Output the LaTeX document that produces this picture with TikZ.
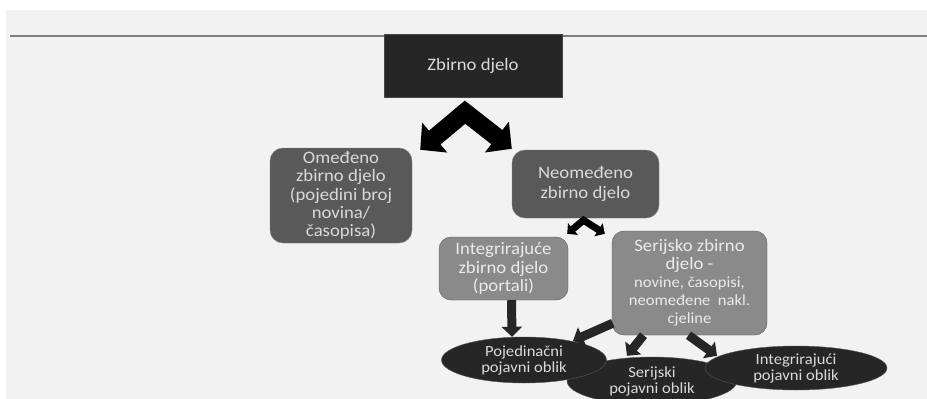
\documentclass[tikz,border=0pt]{standalone}
\usepackage{xcolor}
\usepackage{tikz}
\usepackage{fontspec}
\setmainfont[FakeStretch=1.07]{Carlito}
\usetikzlibrary{shapes.geometric, arrows.meta, calc}
\definecolor{pagegray}{HTML}{F2F2F2}
\definecolor{rulegray}{HTML}{7F7F7F}
\definecolor{boxblack}{HTML}{262626}
\definecolor{boxdark}{HTML}{595959}
\definecolor{boxmid}{HTML}{8A8A8A}
\definecolor{textlight}{HTML}{DADADA}

\begin{document}
\begin{tikzpicture}[x=1pt, y=-1pt,
    topbox/.style={rectangle, fill=boxblack, draw=boxblack!85!white, text=textlight, inner sep=0pt, align=center},
    darkbox/.style={rectangle, rounded corners=13pt, fill=boxdark, draw=rulegray, text=textlight, inner sep=0pt, align=center},
    midbox/.style={rectangle, rounded corners=12pt, fill=boxmid, draw=boxdark, text=white!92!black, inner sep=0pt, align=center},
    oval/.style={ellipse, fill=boxblack, draw=boxdark, text=textlight, inner sep=0pt, align=center, font=\fontsize{15.5pt}{16pt}\selectfont},
    bigchev/.style={draw=black, line width=18pt, line join=miter, {Triangle[width=38pt,length=19pt]}-{Triangle[width=38pt,length=19pt]}},
    smallchev/.style={draw=black, line width=7pt, line join=miter, {Triangle[width=15pt,length=7.5pt]}-{Triangle[width=15pt,length=7.5pt]}},
    blockarrow/.style={draw=boxblack, line width=9pt, -{Triangle[width=20pt,length=10pt]}}]
      \useasboundingbox (0,0) rectangle (927,399);
      \clip (0,0) rectangle (927,399);
      \fill[white] (0,0) rectangle (927,399);
      \fill[pagegray] (6,10) rectangle (927,399);
      \draw[rulegray, line width=2pt] (10,35.5) -- (927,35.5);

      \node[topbox, minimum width=178pt, minimum height=63pt, font=\fontsize{17.5pt}{18pt}\selectfont] (zbirno) at (473,65.5) {Zbirno djelo};
      \node[darkbox, minimum width=142pt, minimum height=95pt, font=\fontsize{17.5pt}{18.3pt}\selectfont] (omedeno) at (341,195.5)
        {Omeđeno\\zbirno djelo\\(pojedini broj\\novina/\\časopisa)};
      \node[darkbox, minimum width=147pt, minimum height=68pt, font=\fontsize{17.5pt}{19.5pt}\selectfont] (neomedeno) at (585.5,184)
        {Neomeđeno\\zbirno djelo};
      \node[midbox, minimum width=129pt, minimum height=63pt, font=\fontsize{17.5pt}{18.5pt}\selectfont] (integ) at (503.5,268.5)
        {Integrirajuće\\zbirno djelo\\(portali)};
      \node[midbox, minimum width=155pt, minimum height=104pt, font=\fontsize{17.5pt}{18pt}\selectfont] (serij) at (689.5,283)
        {Serijsko zbirno\\djelo -\\{\fontsize{15.5pt}{17pt}\selectfont novine, časopisi,}\\{\fontsize{15.5pt}{17pt}\selectfont neomeđene~ nakl.}\\{\fontsize{15.5pt}{17pt}\selectfont cjeline}};

      \node[oval, minimum width=170pt, minimum height=48pt] (serijski) at (652,381) {Serijski\\pojavni oblik};
      \node[oval, minimum width=165pt, minimum height=46pt] (pojedinacni) at (524,360) {Pojedinačni\\pojavni oblik};
      \node[oval, minimum width=182pt, minimum height=44pt] (integrirajuci) at (796,368) {Integrirajući\\pojavni oblik};

      \draw[bigchev] ($(omedeno.north east)+(8,2)$) -- ($(zbirno.south)+(-8,15)$) -- ($(neomedeno.north west)+(0,-1)$);
      \draw[smallchev] ($(integ.north east)+(-1,-3)$) -- ($(neomedeno.south)+(-2,2)$) -- ($(serij.north west)+(-7,3)$);

      \draw[blockarrow] ($(integ.south)+(8,0)$) -- ($(pojedinacni.north)+(-12,0)$);
      \draw[blockarrow] ($(serij.south west)+(1,-12)$) -- ($(pojedinacni.north)+(49,4)$);
      \draw[blockarrow] ($(serij.south)+(-46,0)$) -- ($(serijski.north)+(-25,-1)$);
      \draw[blockarrow] ($(serij.south)+(-1,0)$) -- ($(integrirajuci.north)+(-79,10)$);
    \end{tikzpicture}
\end{document}
